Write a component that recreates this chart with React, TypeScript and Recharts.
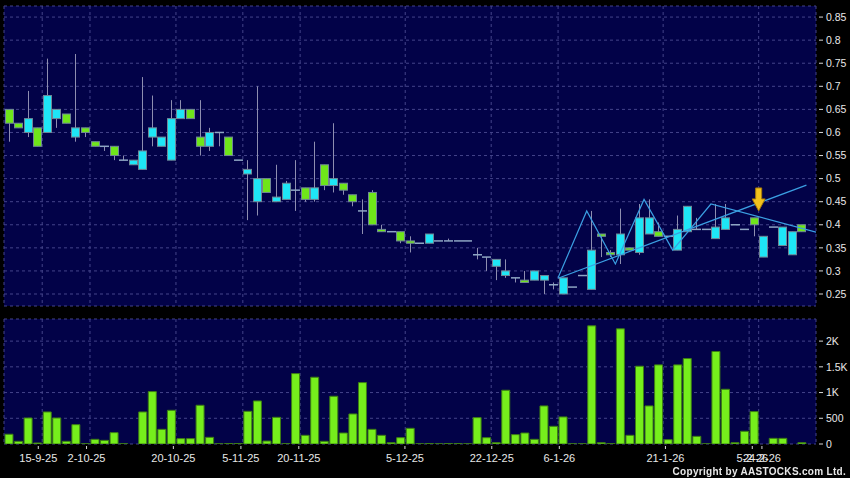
import { ComposedChart, Bar, Line, XAxis, YAxis, CartesianGrid, ReferenceDot } from 'recharts';

// daily candles, oldest first (index = slot on the chart)
const opens = [
  0.65, 0.62, 0.6, 0.61, 0.6, 0.63, 0.64, 0.59, 0.61, 0.58,
  0.57, 0.57, 0.54, 0.53, 0.52, 0.59, 0.57, 0.54, 0.63, 0.65,
  0.59, 0.57, 0.6, 0.59, 0.54, 0.51, 0.45, 0.5, 0.45, 0.455,
  0.475, 0.48, 0.455, 0.53, 0.485, 0.49, 0.465, 0.43, 0.47, 0.39,
  0.385, 0.385, 0.365, 0.36, 0.36, 0.365, 0.365, 0.365, 0.365, 0.335,
  0.33, 0.31, 0.29, 0.285, 0.28, 0.28, 0.28, 0.27, 0.25, 0.265,
  0.29, 0.26, 0.38, 0.34, 0.335, 0.35, 0.34, 0.38, 0.385, 0.375,
  0.345, 0.385, 0.39, 0.39, 0.37, 0.39, 0.4, 0.39, 0.415, 0.33,
  0.395, 0.355, 0.335, 0.4,
];
const closes = [
  0.62, 0.61, 0.63, 0.57, 0.68, 0.65, 0.62, 0.61, 0.6, 0.57,
  0.57, 0.55, 0.54, 0.54, 0.56, 0.61, 0.59, 0.63, 0.65, 0.63,
  0.57, 0.6, 0.6, 0.55, 0.54, 0.52, 0.5, 0.47, 0.46, 0.49,
  0.475, 0.455, 0.48, 0.485, 0.5, 0.475, 0.45, 0.43, 0.4, 0.385,
  0.385, 0.365, 0.36, 0.36, 0.38, 0.365, 0.365, 0.365, 0.365, 0.335,
  0.33, 0.325, 0.3, 0.285, 0.275, 0.3, 0.29, 0.27, 0.285, 0.265,
  0.29, 0.345, 0.375, 0.335, 0.38, 0.345, 0.415, 0.415, 0.375, 0.375,
  0.39, 0.44, 0.39, 0.39, 0.395, 0.415, 0.4, 0.39, 0.4, 0.375,
  0.395, 0.395, 0.385, 0.385,
];
const highs = [
  0.65, 0.62, 0.69, 0.61, 0.76, 0.65, 0.64, 0.77, 0.61, 0.58,
  0.57, 0.57, 0.55, 0.54, 0.72, 0.68, 0.59, 0.67, 0.67, 0.65,
  0.67, 0.61, 0.6, 0.59, 0.54, 0.54, 0.7, 0.5, 0.53, 0.495,
  0.54, 0.48, 0.58, 0.53, 0.62, 0.49, 0.465, 0.455, 0.475, 0.4,
  0.385, 0.385, 0.375, 0.36, 0.38, 0.365, 0.37, 0.365, 0.365, 0.35,
  0.33, 0.325, 0.325, 0.285, 0.3, 0.3, 0.29, 0.275, 0.285, 0.265,
  0.29, 0.43, 0.38, 0.345, 0.435, 0.35, 0.445, 0.455, 0.405, 0.375,
  0.42, 0.44, 0.415, 0.39, 0.445, 0.445, 0.4, 0.39, 0.415, 0.375,
  0.395, 0.395, 0.385, 0.4,
];
const lows = [
  0.58, 0.61, 0.59, 0.57, 0.6, 0.61, 0.62, 0.58, 0.59, 0.57,
  0.56, 0.54, 0.54, 0.53, 0.52, 0.57, 0.57, 0.54, 0.63, 0.63,
  0.55, 0.56, 0.57, 0.55, 0.54, 0.41, 0.42, 0.47, 0.45, 0.455,
  0.43, 0.45, 0.45, 0.475, 0.47, 0.465, 0.44, 0.38, 0.4, 0.385,
  0.385, 0.36, 0.34, 0.36, 0.36, 0.365, 0.365, 0.365, 0.365, 0.325,
  0.3, 0.28, 0.285, 0.275, 0.275, 0.28, 0.25, 0.26, 0.25, 0.265,
  0.29, 0.26, 0.33, 0.33, 0.315, 0.345, 0.335, 0.38, 0.375, 0.375,
  0.345, 0.385, 0.39, 0.39, 0.37, 0.39, 0.4, 0.39, 0.375, 0.33,
  0.395, 0.355, 0.335, 0.385,
];
const volumes = [
  190, 52, 506, 20, 623, 506, 52, 376, 5, 91,
  71, 221, 5, 0, 623, 1019, 285, 655, 104, 104,
  753, 130, 3, 10, 10, 636, 837, 58, 519, 5,
  1369, 169, 1298, 52, 928, 214, 584, 1194, 285, 169,
  26, 123, 305, 3, 10, 3, 10, 10, 3, 513,
  123, 26, 1045, 182, 214, 91, 740, 344, 526, 3,
  3, 2297, 26, 5, 2239, 169, 1512, 740, 1538, 84,
  1538, 1661, 149, 3, 1798, 1064, 26, 247, 630, 0,
  110, 110, 0, 26,
];

const priceTicks = [0.25, 0.3, 0.35, 0.4, 0.45, 0.5, 0.55, 0.6, 0.65, 0.7, 0.75, 0.8, 0.85];
const volTicks = [0, 500, 1000, 1500, 2000];
const volTickLabels = ['0', '500', '1K', '1.5K', '2K'];
const dateTicks = [3.5, 8.5, 17.5, 24.5, 30.5, 41.5, 50.5, 57.5, 68.5, 77.5, 78.5];
const dateLabels = ['15-9-25', '2-10-25', '20-10-25', '5-11-25', '20-11-25', '5-12-25',
  '22-12-25', '6-1-26', '21-1-26', '5-2-26', '24-2-26'];

// drawn overlays: zigzag swing line and a rising trend line
const zigX = [57.5, 60.5, 63.5, 66.5, 69.5, 73.5, 84.5];
const zigP = [0.285, 0.43, 0.315, 0.455, 0.345, 0.445, 0.384];
const trendX = [57.5, 83.5];
const trendP = [0.284, 0.486];
const markerX = 78.5;
const markerP = 0.43;

const rows = opens.map((o, i) => ({
  i, open: o, close: closes[i], high: highs[i], low: lows[i],
  range: [lows[i], highs[i]], vol: volumes[i],
}));
const zigData = zigX.map((x, k) => ({ i: x, p: zigP[k] }));
const trendData = trendX.map((x, k) => ({ i: x, p: trendP[k] }));

const FONT = '"Liberation Sans", Arial, sans-serif';
const X_DOMAIN: [number, number] = [-0.5, 84.5];
const BODY_W = 8;

function Candle(props: any) {
  const { x, y, width, height, payload } = props;
  const { open, close, high, low } = payload;
  const top = Math.min(y, y + height);
  const h = Math.abs(height);
  const span = high - low;
  const py = (v: number) => (span > 0 ? top + ((high - v) / span) * h : top);
  const cx = Math.round(x + width / 2) + 0.5;
  const left = cx - BODY_W / 2;
  if (open === close) {
    return (
      <g>
        {span > 0 && <line x1={cx} x2={cx} y1={top} y2={top + h} stroke="#8e8eb0" strokeWidth={1} />}
        <line x1={left - 0.5} x2={left + BODY_W + 0.5} y1={py(open)} y2={py(open)} stroke="#8ea6c4" strokeWidth={1.5} />
      </g>
    );
  }
  const bTop = py(Math.max(open, close));
  const bBot = py(Math.min(open, close));
  return (
    <g>
      <line x1={cx} x2={cx} y1={top} y2={top + h} stroke="#8e8eb0" strokeWidth={1} />
      <rect x={left} y={bTop} width={BODY_W} height={Math.max(bBot - bTop, 1)}
        fill={close > open ? '#1ee6f6' : '#6fe61a'} stroke="#6f8796" strokeWidth={1} />
    </g>
  );
}

function RightTick({ x, y, payload, labels }: any) {
  const text = labels ? labels[volTicks.indexOf(payload.value)] : String(payload.value);
  return (
    <g>
      <line x1={x + 3} x2={x + 7} y1={y} y2={y} stroke="#d8d8d8" />
      <text x={x + 10} y={y} dy="0.35em" fill="#e8e8e8" fontSize={10.5} fontFamily={FONT}>{text}</text>
    </g>
  );
}

// the date labels sit on a slightly wider scale than the grid, as in the source chart
function DateTick({ x, y, payload }: any) {
  const k = dateTicks.indexOf(payload.value);
  const lx = 4 + (x - 4) * 1.01 - 4.3;
  return (
    <g>
      <line x1={lx} x2={lx} y1={y + 2} y2={y + 5} stroke="#d8d8d8" />
      <text x={lx} y={y + 14} dy="0.35em" textAnchor="middle" fill="#e8e8e8" fontSize={11} fontFamily={FONT}>
        {dateLabels[k]}
      </text>
    </g>
  );
}

function Arrow({ cx, cy }: any) {
  return (
    <path d={`M${cx - 3},${cy - 23} L${cx + 3},${cy - 23} L${cx + 3},${cy - 12} L${cx + 6.5},${cy - 12}
      L${cx},${cy} L${cx - 6.5},${cy - 12} L${cx - 3},${cy - 12} Z`}
      fill="#f2c21c" stroke="#a87a08" strokeWidth={1} />
  );
}

export default function App() {
  return (
    <div style={{ position: 'fixed', left: 0, top: 0, width: 850, height: 478, background: '#000' }}>
      <ComposedChart width={850} height={312} data={rows} margin={{ top: 6, right: 0, bottom: 6, left: 4 }}>
        <CartesianGrid fill="#020248" stroke="#44448a" strokeDasharray="3 3" />
        <XAxis dataKey="i" type="number" domain={X_DOMAIN} ticks={dateTicks} allowDataOverflow hide />
        <YAxis orientation="right" width={34} type="number" domain={[0.224, 0.874]} ticks={priceTicks}
          allowDataOverflow axisLine={false} tickLine={false} tickSize={0} tickMargin={0}
          tick={(p: any) => <RightTick {...p} />} />
        <Bar dataKey="range" barSize={8} shape={(p: any) => <Candle {...p} />} isAnimationActive={false} />
        <Line data={trendData} dataKey="p" stroke="#3b9fe2" strokeWidth={1.2} dot={false}
          isAnimationActive={false} />
        <Line data={zigData} dataKey="p" stroke="#3b9fe2" strokeWidth={1.2} dot={false}
          isAnimationActive={false} />
        <ReferenceDot x={markerX} y={markerP} shape={(p: any) => <Arrow {...p} />} />
      </ComposedChart>
      <ComposedChart width={850} height={166} data={rows} margin={{ top: 7, right: 0, bottom: 0, left: 4 }}>
        <CartesianGrid fill="#020248" stroke="#44448a" strokeDasharray="3 3" />
        <XAxis dataKey="i" type="number" domain={X_DOMAIN} ticks={dateTicks} allowDataOverflow interval={0}
          height={34} axisLine={false} tickLine={false} tickSize={0} tickMargin={0}
          tick={(p: any) => <DateTick {...p} />} />
        <YAxis orientation="right" width={34} type="number" domain={[0, 2430]} ticks={volTicks}
          allowDataOverflow axisLine={false} tickLine={false} tickSize={0} tickMargin={0}
          tick={(p: any) => <RightTick {...p} labels={volTickLabels} />} />
        <Bar dataKey="vol" barSize={8} fill="#76ee1c" stroke="#3d7d14" strokeWidth={1} isAnimationActive={false} />
      </ComposedChart>
      <div style={{ position: 'absolute', right: 4, top: 465, fontFamily: FONT, fontSize: 10, fontWeight: 'bold',
        letterSpacing: 0.3, lineHeight: '14px', color: '#e8e8e8' }}>
        Copyright by AASTOCKS.com Ltd.
      </div>
    </div>
  );
}
